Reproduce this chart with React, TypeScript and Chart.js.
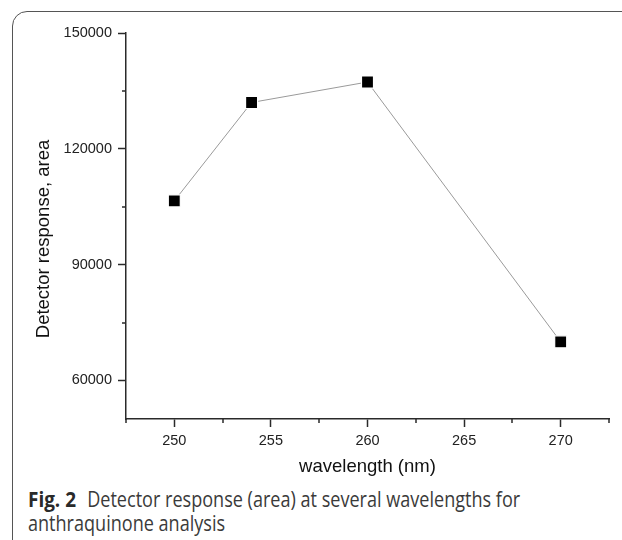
import React, { useEffect, useRef } from "react";
import { Chart, registerables } from "chart.js";
Chart.register(...registerables);

const wavelengths = [250, 254, 260, 270];
const responses = [106500, 132000, 137300, 70000];
const xTicks = [250, 255, 260, 265, 270];
const xMinorTicks = [247.5, 252.5, 257.5, 262.5, 267.5, 272.5];
const yTicks = [60000, 90000, 120000, 150000];
const yMinorTicks = [75000, 105000, 135000];
const xTitle = "wavelength (nm)";
const yTitle = "Detector response, area";
const captionLabel = "Fig. 2";
const captionLine1 = "Detector response (area) at several wavelengths for";
const captionLine2 = "anthraquinone analysis";

const AXIS = "#2a2a2a";
const FONT = "'Liberation Sans', Arial, sans-serif";

const minorTicksPlugin = {
  id: "minorTicks",
  afterDraw(chart: any) {
    const { ctx, chartArea } = chart;
    const xs = chart.scales.x;
    const ys = chart.scales.y;
    ctx.save();
    ctx.strokeStyle = AXIS;
    ctx.lineWidth = 1.5;
    ctx.beginPath();
    xMinorTicks.forEach((v) => {
      const px = Math.round(xs.getPixelForValue(v));
      ctx.moveTo(px, chartArea.bottom);
      ctx.lineTo(px, chartArea.bottom + 4);
    });
    yMinorTicks.forEach((v) => {
      const py = Math.round(ys.getPixelForValue(v));
      ctx.moveTo(chartArea.left - 4, py);
      ctx.lineTo(chartArea.left, py);
    });
    ctx.stroke();
    // y axis title
    ctx.fillStyle = "#111";
    ctx.font = `18.5px ${FONT}`;
    ctx.textAlign = "center";
    ctx.textBaseline = "middle";
    ctx.translate(44, (chartArea.top + chartArea.bottom) / 2 + 13);
    ctx.rotate(-Math.PI / 2);
    ctx.fillText(yTitle, 0, 0);
    ctx.restore();
  },
};

function ChartView() {
  const ref = useRef<HTMLCanvasElement | null>(null);
  useEffect(() => {
    if (!ref.current) return;
    const chart = new Chart(ref.current, {
      type: "scatter",
      data: {
        datasets: [
          {
            data: wavelengths.map((x, i) => ({ x, y: responses[i] })),
            showLine: true,
            borderColor: "#9a9a9a",
            borderWidth: 1,
            pointStyle: "rect",
            pointRadius: 8.5,
            pointHoverRadius: 8.5,
            pointBackgroundColor: "#000",
            pointBorderColor: "#fff",
            pointBorderWidth: 1.2,
          },
        ],
      },
      options: {
        animation: false,
        responsive: false,
        events: [],
        layout: { padding: { left: 0, top: 33, right: 13, bottom: 0 } },
        plugins: { legend: { display: false }, tooltip: { enabled: false } },
        scales: {
          x: {
            type: "linear",
            min: 247.5,
            max: 272.5,
            afterBuildTicks: (s: any) => {
              s.ticks = xTicks.map((v) => ({ value: v }));
            },
            afterFit: (s: any) => {
              s.height = 61;
            },
            grid: { drawOnChartArea: false, drawTicks: true, tickLength: 8, tickColor: AXIS, tickWidth: 1.5 },
            border: { display: true, color: AXIS, width: 1.5 },
            ticks: {
              font: { family: FONT, size: 14.5 },
              color: "#222",
              padding: 5,
              maxRotation: 0,
              autoSkip: false,
              callback: (v: any) => String(v),
            },
            title: {
              display: true,
              text: xTitle,
              font: { family: FONT, size: 18.5 },
              color: "#111",
              padding: { top: 0, bottom: 2 },
            },
          },
          y: {
            type: "linear",
            min: 50000,
            max: 150000,
            afterBuildTicks: (s: any) => {
              s.ticks = yTicks.map((v) => ({ value: v }));
            },
            afterFit: (s: any) => {
              s.width = 126;
            },
            grid: { drawOnChartArea: false, drawTicks: true, tickLength: 8, tickColor: AXIS, tickWidth: 1.5 },
            border: { display: true, color: AXIS, width: 1.5 },
            ticks: {
              font: { family: FONT, size: 14.5 },
              color: "#222",
              padding: 6,
              autoSkip: false,
              callback: (v: any) => String(v),
            },
          },
        },
      },
      plugins: [minorTicksPlugin],
    } as any);
    return () => chart.destroy();
  }, []);
  return <canvas ref={ref} width={622} height={480} style={{ position: "absolute", left: 0, top: 0 }} />;
}

export default function App() {
  return (
    <div
      style={{
        position: "absolute",
        left: 0,
        top: 0,
        width: 622,
        height: 540,
        overflow: "hidden",
        background: "#fff",
      }}
    >
      <div
        style={{
          position: "absolute",
          left: 12,
          top: 11,
          width: 660,
          height: 580,
          border: "1.5px solid #555",
          borderRadius: 15,
          boxSizing: "border-box",
        }}
      />
      <ChartView />
      <div
        style={{
          position: "absolute",
          left: 28,
          top: 487,
          width: 620,
          fontFamily: "'Open Sans', sans-serif",
          fontSize: 21,
          lineHeight: "23.7px",
          color: "#3a3a3a",
          transform: "scaleX(0.86)",
          transformOrigin: "left top",
          whiteSpace: "nowrap",
        }}
      >
        <div>
          <span style={{ fontWeight: 700, color: "#2a2a2a", fontSize: 22, marginRight: 13 }}>{captionLabel}</span>
          {captionLine1}
        </div>
        <div>{captionLine2}</div>
      </div>
    </div>
  );
}
